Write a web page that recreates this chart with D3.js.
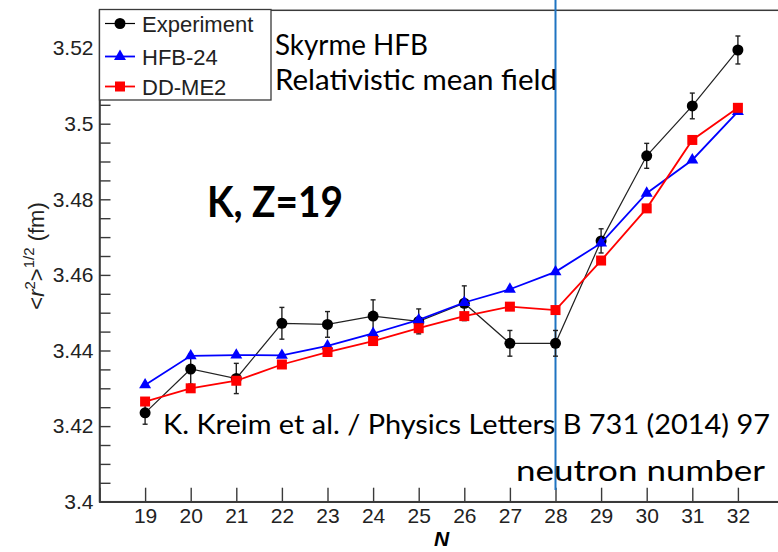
<!DOCTYPE html>
<html>
<head>
<meta charset="utf-8">
<script src="https://cdn.jsdelivr.net/npm/d3@7"></script>
<style>
  html, body { margin: 0; padding: 0; background: #fff; }
  svg { display: block; }
</style>
</head>
<body>
<svg id="chart" width="778" height="552"></svg>
<script>
// Neutron numbers and charge radii (fm) for potassium isotopes
const neutronNumbers = [19, 20, 21, 22, 23, 24, 25, 26, 27, 28, 29, 30, 31, 32];
const experiment = [3.4235, 3.4351, 3.4326, 3.4472, 3.4469, 3.4491, 3.4477, 3.4525, 3.4419, 3.4419, 3.4690, 3.4915, 3.5047, 3.5195];
const experimentErr = [0.0030, 0.0040, 0.0040, 0.0042, 0.0034, 0.0043, 0.0033, 0.0046, 0.0034, 0.0034, 0.0032, 0.0033, 0.0034, 0.0037];
const hfb24 = [3.4309, 3.4386, 3.4388, 3.4387, 3.4412, 3.4445, 3.4481, 3.4527, 3.4562, 3.4608, 3.4684, 3.4816, 3.4904, 3.5032];
const ddme2 = [3.4265, 3.4300, 3.4320, 3.4363, 3.4396, 3.4425, 3.4459, 3.4491, 3.4516, 3.4507, 3.4638, 3.4776, 3.4957, 3.5042];
const yTickValues = [3.40, 3.42, 3.44, 3.46, 3.48, 3.50, 3.52];
const yTickLabels = ["3.4", "3.42", "3.44", "3.46", "3.48", "3.5", "3.52"];
const seriesNames = ["Experiment", "HFB-24", "DD-ME2"];

const svg = d3.select("#chart");
const axisFont = "'Liberation Sans', Arial, sans-serif";
const noteFont = "Lato, 'Open Sans', sans-serif";
const frameColor = "#3a3a3a";

const x = d3.scaleLinear().domain([18, 33]).range([99.5, 783.5]);
const y = d3.scaleLinear().domain([3.40, 3.53]).range([501.7, 10.3]);

// Frame
svg.append("rect")
  .attr("x", x(18)).attr("y", y(3.53))
  .attr("width", x(33) - x(18)).attr("height", y(3.40) - y(3.53))
  .attr("fill", "none").attr("stroke", frameColor).attr("stroke-width", 1.5);

// Y axis: major + minor ticks pointing inward
const yMinor = d3.range(3.40, 3.5301, 0.005).map(v => +v.toFixed(3));
const yAxisMinor = d3.axisLeft(y).tickValues(yMinor).tickSize(-11).tickFormat("");
svg.append("g").attr("transform", `translate(${x(18)},0)`).call(yAxisMinor)
  .call(g => g.select(".domain").remove())
  .call(g => g.selectAll("line").attr("stroke", frameColor).attr("stroke-width", 1.4));

const yAxis = d3.axisLeft(y).tickValues(yTickValues).tickSize(0).tickPadding(6)
  .tickFormat((d, i) => yTickLabels[i]);
svg.append("g").attr("transform", `translate(${x(18)},0)`).call(yAxis)
  .call(g => g.select(".domain").attr("stroke", frameColor).attr("stroke-width", 1.5))
  .call(g => g.selectAll("text").attr("font-family", axisFont).attr("font-size", 21).attr("fill", "#222"));

// X axis
const xAxis = d3.axisBottom(x).tickValues(neutronNumbers).tickSize(-14).tickPadding(6.5)
  .tickFormat(d3.format("d"));
svg.append("g").attr("transform", `translate(0,${y(3.40)})`).call(xAxis)
  .call(g => g.select(".domain").attr("stroke", frameColor).attr("stroke-width", 1.5))
  .call(g => g.selectAll("line").attr("stroke", frameColor).attr("stroke-width", 1.4))
  .call(g => g.selectAll("text").attr("font-family", axisFont).attr("font-size", 21).attr("fill", "#222"));

// Axis titles
svg.append("text")
  .attr("x", (x(18) + x(33)) / 2).attr("y", 546)
  .attr("text-anchor", "middle")
  .attr("font-family", axisFont).attr("font-size", 21)
  .attr("font-weight", "bold").attr("font-style", "italic")
  .text("N");

const yTitle = svg.append("text")
  .attr("transform", "translate(44,256) rotate(-90)")
  .attr("text-anchor", "middle")
  .attr("font-family", axisFont).attr("font-size", 22).attr("fill", "#222");
yTitle.append("tspan").text("<");
yTitle.append("tspan").attr("font-style", "italic").text("r");
yTitle.append("tspan").attr("font-size", 15).attr("dy", -9).text("2");
yTitle.append("tspan").attr("dy", 9).text(">");
yTitle.append("tspan").attr("font-size", 15).attr("dy", -10).text("1/2");
yTitle.append("tspan").attr("dy", 10).text(" (fm)");

// Shell-closure marker at N = 28
svg.append("line")
  .attr("x1", x(28)).attr("x2", x(28))
  .attr("y1", 0).attr("y2", 490)
  .attr("stroke", "#1f74c2").attr("stroke-width", 2);

const plot = svg.append("g");
const line = d3.line().x((d, i) => x(neutronNumbers[i])).y(d => y(d));

// Experiment
plot.append("path").datum(experiment).attr("d", line)
  .attr("fill", "none").attr("stroke", "#222").attr("stroke-width", 1.2);
const errG = plot.append("g").attr("stroke", "#222").attr("stroke-width", 1.4);
experiment.forEach((v, i) => {
  const cx = x(neutronNumbers[i]);
  const y0 = y(v - experimentErr[i]), y1 = y(v + experimentErr[i]);
  errG.append("line").attr("x1", cx).attr("x2", cx).attr("y1", y0).attr("y2", y1);
  errG.append("line").attr("x1", cx - 2.5).attr("x2", cx + 2.5).attr("y1", y0).attr("y2", y0);
  errG.append("line").attr("x1", cx - 2.5).attr("x2", cx + 2.5).attr("y1", y1).attr("y2", y1);
});
plot.append("g").selectAll("circle").data(experiment).join("circle")
  .attr("cx", (d, i) => x(neutronNumbers[i])).attr("cy", d => y(d))
  .attr("r", 5.5).attr("fill", "#000");

// HFB-24
const tri = d3.symbol().type(d3.symbolTriangle).size(62);
plot.append("path").datum(hfb24).attr("d", line)
  .attr("fill", "none").attr("stroke", "#0000ff").attr("stroke-width", 1.8);
plot.append("g").selectAll("path").data(hfb24).join("path")
  .attr("d", tri)
  .attr("transform", (d, i) => `translate(${x(neutronNumbers[i])},${y(d)})`)
  .attr("fill", "#0000ff");

// DD-ME2
plot.append("path").datum(ddme2).attr("d", line)
  .attr("fill", "none").attr("stroke", "#ff0000").attr("stroke-width", 1.8);
plot.append("g").selectAll("rect").data(ddme2).join("rect")
  .attr("x", (d, i) => x(neutronNumbers[i]) - 5).attr("y", d => y(d) - 5)
  .attr("width", 10).attr("height", 10).attr("fill", "#ff0000");

// Legend
const legend = svg.append("g");
legend.append("rect")
  .attr("x", 99.5).attr("y", 9.5).attr("width", 171.5).attr("height", 90.5)
  .attr("fill", "#fff").attr("stroke", frameColor).attr("stroke-width", 1.3);
const legendColors = ["#000", "#0000ff", "#ff0000"];
const legendY = [23.5, 56.5, 86.5];
seriesNames.forEach((name, i) => {
  const ly = legendY[i];
  legend.append("line").attr("x1", 105).attr("x2", 135).attr("y1", ly).attr("y2", ly)
    .attr("stroke", legendColors[i]).attr("stroke-width", i === 0 ? 1.2 : 1.8);
  if (i === 0) {
    legend.append("circle").attr("cx", 120).attr("cy", ly).attr("r", 5.5).attr("fill", "#000");
  } else if (i === 1) {
    legend.append("path").attr("d", tri).attr("transform", `translate(120,${ly})`).attr("fill", "#0000ff");
  } else {
    legend.append("rect").attr("x", 115).attr("y", ly - 5).attr("width", 10).attr("height", 10).attr("fill", "#ff0000");
  }
  legend.append("text").attr("x", 142).attr("y", ly + 8)
    .attr("font-family", axisFont).attr("font-size", 22).attr("fill", "#222")
    .text(name);
});

// Annotations
function note(str, px, py, size, width, bold) {
  svg.append("text").attr("x", px).attr("y", py)
    .attr("font-family", noteFont).attr("font-size", size)
    .attr("font-weight", bold ? "bold" : "normal").attr("fill", "#000")
    .attr("textLength", width).attr("lengthAdjust", "spacingAndGlyphs")
    .text(str);
}
note("Skyrme HFB", 275, 55, 28, 153, false);
note("Relativistic mean field", 275, 90, 28, 282, false);
note("K, Z=19", 207, 217, 42, 136, true);
note("K. Kreim et al. / Physics Letters B 731 (2014) 97", 163, 434, 26, 607, false);
note("neutron number", 516, 481, 29, 249, false);
</script>
</body>
</html>
